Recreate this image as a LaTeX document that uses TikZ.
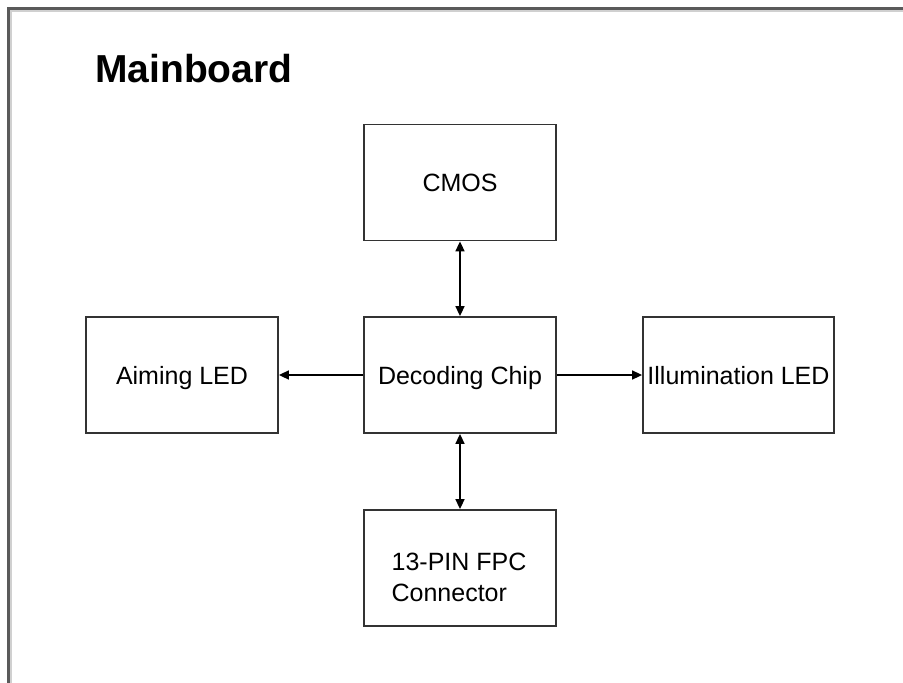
\documentclass[tikz,border=0pt]{standalone}
\usepackage{fontspec}
\setmainfont{Liberation Sans}
\usetikzlibrary{arrows.meta}
\definecolor{framegray}{HTML}{5A5A5A}
\definecolor{shadegray}{HTML}{D0D0D0}
\definecolor{boxline}{HTML}{333333}
\begin{document}
\begin{tikzpicture}[x=1pt,y=-1pt,
  blk/.style={draw=boxline, line width=1.8pt, minimum width=192pt, minimum height=116pt, inner sep=0pt, text height=18pt, text depth=0pt, font=\fontsize{25}{31}\selectfont, text=black},
  arr/.style={draw=black, line width=1.6pt, -{Triangle[length=10pt,width=9pt]}},
  biarr/.style={draw=black, line width=1.6pt, {Triangle[length=10pt,width=9pt]}-{Triangle[length=10pt,width=9pt]}}
]
\useasboundingbox (0,0) rectangle (903,683);
\fill[white] (0,0) rectangle (903,683);
% outer frame with soft shadow
\draw[shadegray, line width=2.5pt] (11,683) -- (11,11) -- (903,11);
\draw[framegray, line width=2.5pt] (8.5,683) -- (8.5,8.5) -- (903,8.5);
\node[anchor=base west, inner sep=0pt, font=\fontsize{39}{44}\selectfont\bfseries] (title) at (95,82) {Mainboard};
\node[blk] (cmos) at (460,182.5) {CMOS};
\node[blk] (dec) at (460,375) {Decoding Chip};
\node[blk] (aim) at (182,375) {Aiming LED};
\node[blk, minimum width=191pt] (ill) at (738.5,375) {Illumination LED};
\node[blk] (fpc) at (460,568) {};
\node[align=left, inner sep=0pt, font=\fontsize{25}{31}\selectfont] (fpctext) at (459,577) {13-PIN FPC\\Connector};
\draw[biarr] (cmos) -- (dec);
\draw[biarr] (dec) -- (fpc);
\draw[arr] (dec.west) -- (aim.east);
\draw[arr] (dec.east) -- (ill.west);
\end{tikzpicture}
\end{document}
